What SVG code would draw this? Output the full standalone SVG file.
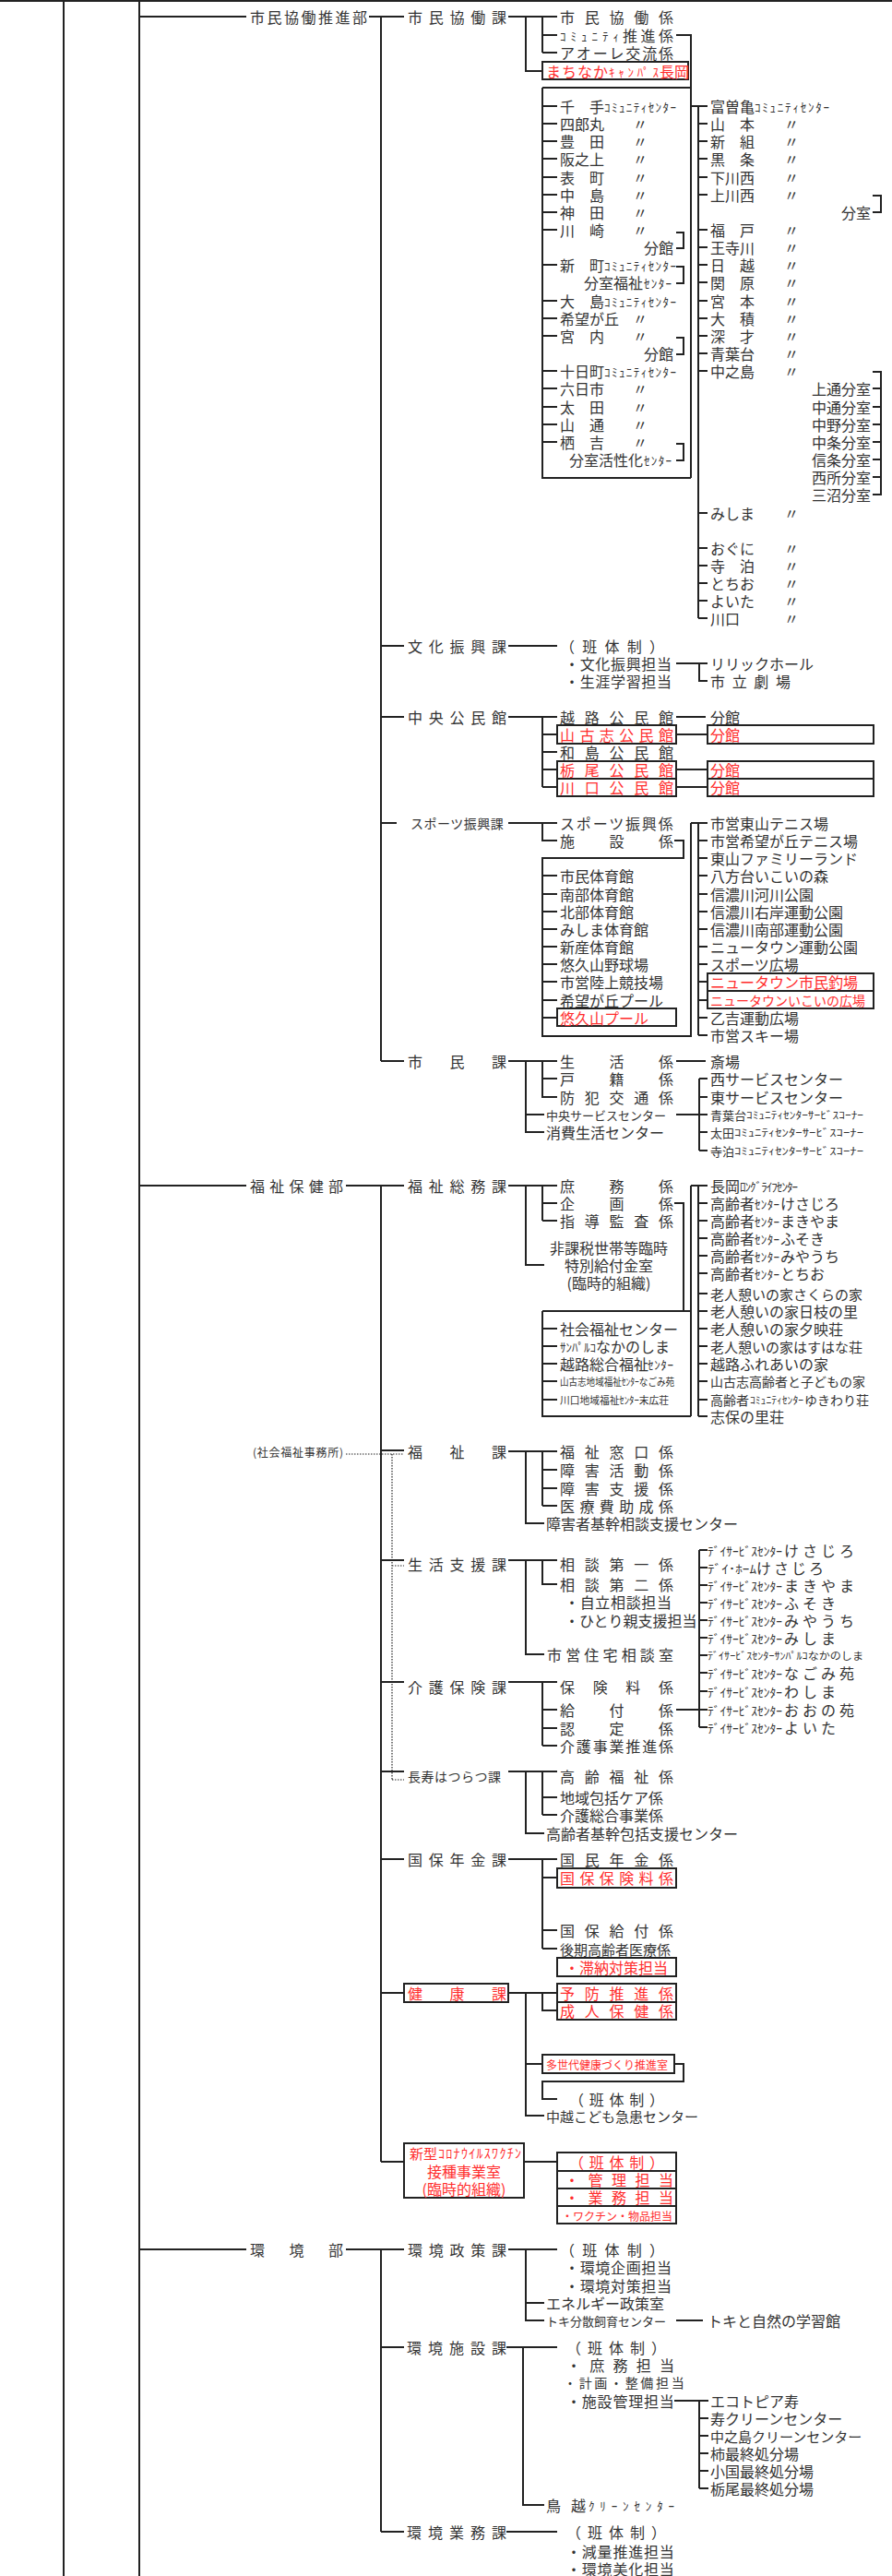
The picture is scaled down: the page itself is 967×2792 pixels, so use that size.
<svg xmlns="http://www.w3.org/2000/svg" width="967" height="2792" viewBox="0 0 967 2792">
<style>
text{font-family:"Noto Sans CJK JP","Noto Sans",sans-serif;font-size:16px;fill:#333;dominant-baseline:central}
.r{fill:#ff2d2d}
.m{font-size:15px}
.s{font-size:14px}
.h{font-size:13px}
.xs{font-size:11px}
.mid{text-anchor:middle}
.ln{stroke:#222;stroke-width:2;fill:none}
.dt{stroke:#222;stroke-width:1.2;fill:none;stroke-dasharray:1.5 1.5}
.bx{stroke:#222;stroke-width:2;fill:#fff}
</style>
<rect width="967" height="2792" fill="#fff"/>
<g id="connectors">
<path class="ln" d="M69 0V2792 M151 0V2792 M0 1H967
M151 18H267 M400 18H413 M413 18V1150 M413 18H438 M551 18H604 M570 18V77H588 M588 18V57 M588 38H604 M588 57H604
M733 38H749V518 M588 95H749 M588 95V518H749
M588 115H604 M588 134H604 M588 153H604 M588 172H604 M588 192H604 M588 211H604 M588 230H604 M588 249H604 M588 287H604 M588 326H604 M588 345H604 M588 364H604 M588 402H604 M588 421H604 M588 441H604 M588 460H604 M588 479H604
M733 252H741V269H733 M733 289H741V307H733 M733 366H741V384H733 M733 481H741V499H733
M749 115H767 M757 115V670 M757 134H767 M757 153H767 M757 172H767 M757 192H767 M757 211H767 M757 249H767 M757 268H767 M757 287H767 M757 306H767 M757 326H767 M757 345H767 M757 364H767 M757 383H767 M757 402H767 M757 556H767 M757 594H767 M757 613H767 M757 632H767 M757 651H767 M757 670H767
M946 212H955V230H946 M946 403H955V536H946 M946 421H955 M946 441H955 M946 460H955 M946 479H955 M946 498H955 M946 517H955
M413 700H438 M551 700H604 M733 719H767 M758 719V738H767
M413 777H438 M551 777H604 M588 777V853 M588 796H604 M588 815H604 M588 834H604 M588 853H604 M733 777H765 M733 796H767 M733 834H767 M733 853H767
M413 892H430 M551 892H604 M588 892V911H604 M731 911H741V930H588V1123H749V892 M749 892H767 M757 892V1122
M588 949H604 M588 969H604 M588 988H604 M588 1007H604 M588 1026H604 M588 1045H604 M588 1064H604 M588 1084H604 M588 1103H604
M757 911H767 M757 930H767 M757 949H767 M757 969H767 M757 988H767 M757 1007H767 M757 1026H767 M757 1045H767 M757 1064H767 M757 1084H767 M757 1103H767 M757 1122H767
M413 1150H438 M551 1150H604 M733 1150H765 M570 1150V1227H590 M570 1208H590 M588 1150V1189H604 M588 1169H604 M733 1208H767 M758 1169V1247 M758 1169H767 M758 1189H767 M758 1227H767 M758 1247H767
M151 1285H267 M375 1285H413 M413 1285V2343 M413 1285H438 M551 1285H604 M570 1285V1371H590 M588 1285V1323 M588 1304H604 M588 1323H604 M731 1304H741V1421 M588 1421H749 M588 1421V1535H749 M749 1285V1535 M749 1285H767 M757 1285V1535
M588 1440H604 M588 1459H604 M588 1478H604 M588 1497H604 M588 1517H604
M757 1304H767 M757 1323H767 M757 1342H767 M757 1361H767 M757 1380H767 M757 1402H767 M757 1421H767 M757 1440H767 M757 1459H767 M757 1478H767 M757 1497H767 M757 1517H767 M757 1535H767
M413 1572H438 M551 1573H604 M570 1573V1651H590 M588 1573V1632 M588 1593H604 M588 1613H604 M588 1632H604
M413 1691H438 M551 1691H604 M570 1691V1793H590 M588 1691V1717H604
M758 1680V1872 M758 1680H767 M758 1699H767 M758 1718H767 M758 1737H767 M758 1756H767 M758 1775H767 M758 1794H767 M758 1813H767 M758 1833H767 M758 1853H767 M758 1872H767 M733 1853H758
M413 1823H438 M551 1823H604 M588 1823V1892 M588 1853H604 M588 1873H604 M588 1892H604
M413 1920H438 M551 1920H604 M570 1920V1987H590 M588 1920V1967 M588 1948H604 M588 1967H604
M413 2015H438 M551 2015H604 M588 2015V2112 M588 2035H604 M588 2092H604 M588 2112H604
M413 2160H438 M551 2160H604 M588 2160V2179H604 M570 2160V2293H590 M570 2237H588 M731 2237H741V2256H588V2275H604
M413 2343H438 M568 2343H604
M151 2438H267 M375 2438H413 M413 2438V2744 M413 2438H438 M551 2438H604 M570 2438V2515H590 M570 2496H590 M733 2515H762
M413 2544H438 M549 2544H604 M567 2544V2715H590 M731 2602H768 M758 2602V2697 M758 2621H768 M758 2640H768 M758 2659H768 M758 2678H768 M758 2697H768
M413 2744H438 M549 2744H604"/>
<path class="dt" d="M375 1576H438 M425 1576V1929 M425 1697H438 M425 1929H438"/>
</g>

<g id="boxes">
<rect class="bx" x="588" y="67" width="158" height="19"/>
<rect class="bx" x="604" y="786" width="129" height="20"/><rect class="bx" x="767" y="786" width="180" height="20"/>
<rect class="bx" x="604" y="825" width="129" height="19"/><rect class="bx" x="767" y="825" width="180" height="19"/>
<rect class="bx" x="604" y="844" width="129" height="19"/><rect class="bx" x="767" y="844" width="180" height="19"/>
<rect class="bx" x="604" y="1093" width="129" height="19"/>
<rect class="bx" x="767" y="1055" width="180" height="19"/><rect class="bx" x="767" y="1074" width="180" height="19"/>
<rect class="bx" x="604" y="2025" width="129" height="21"/>
<rect class="bx" x="604" y="2122" width="129" height="20"/>
<rect class="bx" x="438" y="2150" width="113" height="20"/>
<rect class="bx" x="604" y="2150" width="129" height="20"/><rect class="bx" x="604" y="2170" width="129" height="19"/>
<rect class="bx" x="588" y="2227" width="143" height="20"/>
<rect class="bx" x="438" y="2323" width="130" height="59"/>
<rect class="bx" x="604" y="2333" width="129" height="20"/><rect class="bx" x="604" y="2353" width="129" height="19"/>
<rect class="bx" x="604" y="2372" width="129" height="19"/><rect class="bx" x="604" y="2391" width="129" height="19"/>
</g>

<g id="dept-shimin">
<text x="271" y="18" letter-spacing="2.5">市民協働推進部</text>
</g>
<g id="ka-shiminkyodo">
<text x="442" y="18" letter-spacing="6.75">市民協働課</text>
<text x="607" y="18" letter-spacing="10.75">市民協働係</text>
<text x="607" y="38" class="h" textLength="64">ｺﾐｭﾆﾃｨ</text><text x="675" y="38" letter-spacing="3.5">推進係</text>
<text x="607" y="57" letter-spacing="1.83">アオーレ交流係</text>
<text x="592" y="77" class="r" letter-spacing="1">まちなか</text><text x="660" y="77" class="r h" textLength="54">ｷｬﾝﾊﾟｽ</text><text x="715" y="77" class="r">長岡</text>
</g>
<g id="community-list-1">
<text x="607" y="115">千　手</text><text x="655" y="115" class="h" textLength="78">ｺﾐｭﾆﾃｨｾﾝﾀｰ</text>
<text x="607" y="134">四郎丸</text><text x="686" y="134">〃</text>
<text x="607" y="153">豊　田</text><text x="686" y="153">〃</text>
<text x="607" y="172">阪之上</text><text x="686" y="172">〃</text>
<text x="607" y="192">表　町</text><text x="686" y="192">〃</text>
<text x="607" y="211">中　島</text><text x="686" y="211">〃</text>
<text x="607" y="230">神　田</text><text x="686" y="230">〃</text>
<text x="607" y="249">川　崎</text><text x="686" y="249">〃</text>
<text x="698" y="268">分館</text>
<text x="607" y="287">新　町</text><text x="655" y="287" class="h" textLength="78">ｺﾐｭﾆﾃｨｾﾝﾀｰ</text>
<text x="633" y="306">分室福祉</text><text x="698" y="306" class="h" textLength="30">ｾﾝﾀｰ</text>
<text x="607" y="326">大　島</text><text x="655" y="326" class="h" textLength="78">ｺﾐｭﾆﾃｨｾﾝﾀｰ</text>
<text x="607" y="345">希望が丘</text><text x="686" y="345">〃</text>
<text x="607" y="364">宮　内</text><text x="686" y="364">〃</text>
<text x="698" y="383">分館</text>
<text x="607" y="402">十日町</text><text x="655" y="402" class="h" textLength="78">ｺﾐｭﾆﾃｨｾﾝﾀｰ</text>
<text x="607" y="421">六日市</text><text x="686" y="421">〃</text>
<text x="607" y="441">太　田</text><text x="686" y="441">〃</text>
<text x="607" y="460">山　通</text><text x="686" y="460">〃</text>
<text x="607" y="479">栖　吉</text><text x="686" y="479">〃</text>
<text x="617" y="498">分室活性化</text><text x="698" y="498" class="h" textLength="30">ｾﾝﾀｰ</text>
</g>
<g id="community-list-2">
<text x="770" y="115">富曽亀</text><text x="818" y="115" class="h" textLength="81">ｺﾐｭﾆﾃｨｾﾝﾀｰ</text>
<text x="770" y="134">山　本</text><text x="850" y="134">〃</text>
<text x="770" y="153">新　組</text><text x="850" y="153">〃</text>
<text x="770" y="172">黒　条</text><text x="850" y="172">〃</text>
<text x="770" y="192">下川西</text><text x="850" y="192">〃</text>
<text x="770" y="211">上川西</text><text x="850" y="211">〃</text>
<text x="912" y="230">分室</text>
<text x="770" y="249">福　戸</text><text x="850" y="249">〃</text>
<text x="770" y="268">王寺川</text><text x="850" y="268">〃</text>
<text x="770" y="287">日　越</text><text x="850" y="287">〃</text>
<text x="770" y="306">関　原</text><text x="850" y="306">〃</text>
<text x="770" y="326">宮　本</text><text x="850" y="326">〃</text>
<text x="770" y="345">大　積</text><text x="850" y="345">〃</text>
<text x="770" y="364">深　才</text><text x="850" y="364">〃</text>
<text x="770" y="383">青葉台</text><text x="850" y="383">〃</text>
<text x="770" y="402">中之島</text><text x="850" y="402">〃</text>
<text x="880" y="421">上通分室</text>
<text x="880" y="441">中通分室</text>
<text x="880" y="460">中野分室</text>
<text x="880" y="479">中条分室</text>
<text x="880" y="498">信条分室</text>
<text x="880" y="517">西所分室</text>
<text x="880" y="536">三沼分室</text>
<text x="770" y="556">みしま</text><text x="850" y="556">〃</text>
<text x="770" y="594">おぐに</text><text x="850" y="594">〃</text>
<text x="770" y="613">寺　泊</text><text x="850" y="613">〃</text>
<text x="770" y="632">とちお</text><text x="850" y="632">〃</text>
<text x="770" y="651">よいた</text><text x="850" y="651">〃</text>
<text x="770" y="670">川口</text><text x="850" y="670">〃</text>
</g>
<g id="ka-bunka">
<text x="442" y="700" letter-spacing="6.75">文化振興課</text>
<text x="607" y="700" letter-spacing="8.25">（班体制）</text>
<text x="612" y="719" letter-spacing="0.67">・文化振興担当</text>
<text x="612" y="738" letter-spacing="0.67">・生涯学習担当</text>
<text x="770" y="719">リリックホール</text>
<text x="770" y="738" letter-spacing="7.67">市立劇場</text>
</g>
<g id="ka-kominkan">
<text x="442" y="777" letter-spacing="6.75">中央公民館</text>
<text x="607" y="777" letter-spacing="10.75">越路公民館</text><text x="770" y="777">分館</text>
<text x="607" y="796" class="r" letter-spacing="5.4">山古志公民館</text><text x="770" y="796" class="r">分館</text>
<text x="607" y="815" letter-spacing="10.75">和島公民館</text>
<text x="607" y="834" class="r" letter-spacing="10.75">栃尾公民館</text><text x="770" y="834" class="r">分館</text>
<text x="607" y="853" class="r" letter-spacing="10.75">川口公民館</text><text x="770" y="853" class="r">分館</text>
</g>
<g id="ka-sports">
<text x="445" y="892" class="s" letter-spacing="0.5">スポーツ振興課</text>
<text x="607" y="892" letter-spacing="1.83">スポーツ振興係</text>
<text x="607" y="911" letter-spacing="37.5">施設係</text>
<text x="607" y="949">市民体育館</text>
<text x="607" y="969">南部体育館</text>
<text x="607" y="988">北部体育館</text>
<text x="607" y="1007">みしま体育館</text>
<text x="607" y="1026">新産体育館</text>
<text x="607" y="1045">悠久山野球場</text>
<text x="607" y="1064">市営陸上競技場</text>
<text x="607" y="1084">希望が丘プール</text>
<text x="607" y="1103" class="r">悠久山プール</text>
<text x="770" y="892">市営東山テニス場</text>
<text x="770" y="911">市営希望が丘テニス場</text>
<text x="770" y="930">東山ファミリーランド</text>
<text x="770" y="949">八方台いこいの森</text>
<text x="770" y="969">信濃川河川公園</text>
<text x="770" y="988">信濃川右岸運動公園</text>
<text x="770" y="1007">信濃川南部運動公園</text>
<text x="770" y="1026">ニュータウン運動公園</text>
<text x="770" y="1045">スポーツ広場</text>
<text x="770" y="1064" class="r">ニュータウン市民釣場</text>
<text x="770" y="1084" class="r s">ニュータウンいこいの広場</text>
<text x="770" y="1103">乙吉運動広場</text>
<text x="770" y="1122">市営スキー場</text>
</g>
<g id="ka-shimin">
<text x="442" y="1150" letter-spacing="29.5">市民課</text>
<text x="607" y="1150" letter-spacing="37.5">生活係</text><text x="770" y="1150">斎場</text>
<text x="607" y="1169" letter-spacing="37.5">戸籍係</text>
<text x="607" y="1189" letter-spacing="10.75">防犯交通係</text>
<text x="592" y="1208" class="h">中央サービスセンター</text>
<text x="592" y="1227">消費生活センター</text>
<text x="770" y="1169">西サービスセンター</text>
<text x="770" y="1189">東サービスセンター</text>
<text x="770" y="1208" class="h">青葉台</text><text x="809" y="1208" class="xs" textLength="127" lengthAdjust="spacingAndGlyphs">ｺﾐｭﾆﾃｨｾﾝﾀｰｻｰﾋﾞｽｺｰﾅｰ</text>
<text x="770" y="1227" class="h">太田</text><text x="796" y="1227" class="xs" textLength="140" lengthAdjust="spacingAndGlyphs">ｺﾐｭﾆﾃｨｾﾝﾀｰｻｰﾋﾞｽｺｰﾅｰ</text>
<text x="770" y="1247" class="h">寺泊</text><text x="796" y="1247" class="xs" textLength="140" lengthAdjust="spacingAndGlyphs">ｺﾐｭﾆﾃｨｾﾝﾀｰｻｰﾋﾞｽｺｰﾅｰ</text>
</g>
<g id="dept-fukushi">
<text x="271" y="1285" letter-spacing="5.25">福祉保健部</text>
<text x="274" y="1573" style="font-size:12px" textLength="98">(社会福祉事務所)</text>
</g>
<g id="ka-fukushisomu">
<text x="442" y="1285" letter-spacing="6.75">福祉総務課</text>
<text x="607" y="1285" letter-spacing="37.5">庶務係</text>
<text x="607" y="1304" letter-spacing="37.5">企画係</text>
<text x="607" y="1323" letter-spacing="10.75">指導監査係</text>
<text x="660" y="1352" class="mid">非課税世帯等臨時</text>
<text x="660" y="1371" class="mid">特別給付金室</text>
<text x="660" y="1390" class="mid">(臨時的組織)</text>
<text x="607" y="1440">社会福祉センター</text>
<text x="607" y="1459" class="h" textLength="39">ｻﾝﾊﾟﾙｺ</text><text x="646" y="1459">なかのしま</text>
<text x="607" y="1478">越路総合福祉</text><text x="702" y="1478" class="h" textLength="28">ｾﾝﾀｰ</text>
<text x="607" y="1497" class="xs" textLength="124" lengthAdjust="spacingAndGlyphs">山古志地域福祉ｾﾝﾀｰなごみ苑</text>
<text x="607" y="1517" class="xs" textLength="118" lengthAdjust="spacingAndGlyphs">川口地域福祉ｾﾝﾀｰ末広荘</text>
<text x="770" y="1285">長岡</text><text x="802" y="1285" class="h" textLength="63">ﾛﾝｸﾞﾗｲﾌｾﾝﾀｰ</text>
<text x="770" y="1304">高齢者</text><text x="818" y="1304" class="h" textLength="27">ｾﾝﾀｰ</text><text x="846" y="1304">けさじろ</text>
<text x="770" y="1323">高齢者</text><text x="818" y="1323" class="h" textLength="27">ｾﾝﾀｰ</text><text x="846" y="1323">まきやま</text>
<text x="770" y="1342">高齢者</text><text x="818" y="1342" class="h" textLength="27">ｾﾝﾀｰ</text><text x="846" y="1342">ふそき</text>
<text x="770" y="1361">高齢者</text><text x="818" y="1361" class="h" textLength="27">ｾﾝﾀｰ</text><text x="846" y="1361">みやうち</text>
<text x="770" y="1380">高齢者</text><text x="818" y="1380" class="h" textLength="27">ｾﾝﾀｰ</text><text x="846" y="1380">とちお</text>
<text x="770" y="1402" class="m">老人憩いの家さくらの家</text>
<text x="770" y="1421">老人憩いの家日枝の里</text>
<text x="770" y="1440">老人憩いの家夕映荘</text>
<text x="770" y="1459" class="m">老人憩いの家はすはな荘</text>
<text x="770" y="1478">越路ふれあいの家</text>
<text x="770" y="1497" class="s">山古志高齢者と子どもの家</text>
<text x="770" y="1517" class="s">高齢者</text><text x="813" y="1517" class="xs" textLength="58" lengthAdjust="spacingAndGlyphs">ｺﾐｭﾆﾃｨｾﾝﾀｰ</text><text x="872" y="1517" class="s">ゆきわり荘</text>
<text x="770" y="1535">志保の里荘</text>
</g>
<g id="ka-fukushi">
<text x="442" y="1573" letter-spacing="29.5">福祉課</text>
<text x="607" y="1573" letter-spacing="10.75">福祉窓口係</text>
<text x="607" y="1593" letter-spacing="10.75">障害活動係</text>
<text x="607" y="1613" letter-spacing="10.75">障害支援係</text>
<text x="607" y="1632" letter-spacing="5.4">医療費助成係</text>
<text x="592" y="1651">障害者基幹相談支援センター</text>
</g>
<g id="ka-seikatsushien">
<text x="442" y="1695" letter-spacing="6.75">生活支援課</text>
<text x="607" y="1695" letter-spacing="10.75">相談第一係</text>
<text x="607" y="1717" letter-spacing="10.75">相談第二係</text>
<text x="612" y="1736" letter-spacing="0.67">・自立相談担当</text>
<text x="612" y="1756">・ひとり親支援担当</text>
<text x="593" y="1793" letter-spacing="4.17">市営住宅相談室</text>
</g>
<g id="dayservice-list">
<text x="767" y="1680" class="h" textLength="81" lengthAdjust="spacingAndGlyphs">ﾃﾞｲｻｰﾋﾞｽｾﾝﾀｰ</text><text x="850" y="1680" letter-spacing="4">けさじろ</text>
<text x="767" y="1699" class="h" textLength="53" lengthAdjust="spacingAndGlyphs">ﾃﾞｲ･ﾎｰﾑ</text><text x="820" y="1699" letter-spacing="3">けさじろ</text>
<text x="767" y="1718" class="h" textLength="81" lengthAdjust="spacingAndGlyphs">ﾃﾞｲｻｰﾋﾞｽｾﾝﾀｰ</text><text x="850" y="1718" letter-spacing="4">まきやま</text>
<text x="767" y="1737" class="h" textLength="81" lengthAdjust="spacingAndGlyphs">ﾃﾞｲｻｰﾋﾞｽｾﾝﾀｰ</text><text x="850" y="1737" letter-spacing="4">ふそき</text>
<text x="767" y="1756" class="h" textLength="81" lengthAdjust="spacingAndGlyphs">ﾃﾞｲｻｰﾋﾞｽｾﾝﾀｰ</text><text x="850" y="1756" letter-spacing="4">みやうち</text>
<text x="767" y="1775" class="h" textLength="81" lengthAdjust="spacingAndGlyphs">ﾃﾞｲｻｰﾋﾞｽｾﾝﾀｰ</text><text x="850" y="1775" letter-spacing="4">みしま</text>
<text x="767" y="1794" class="xs" textLength="169" lengthAdjust="spacingAndGlyphs">ﾃﾞｲｻｰﾋﾞｽｾﾝﾀｰｻﾝﾊﾟﾙｺなかのしま</text>
<text x="767" y="1813" class="h" textLength="81" lengthAdjust="spacingAndGlyphs">ﾃﾞｲｻｰﾋﾞｽｾﾝﾀｰ</text><text x="850" y="1813" letter-spacing="4">なごみ苑</text>
<text x="767" y="1833" class="h" textLength="81" lengthAdjust="spacingAndGlyphs">ﾃﾞｲｻｰﾋﾞｽｾﾝﾀｰ</text><text x="850" y="1833" letter-spacing="4">わしま</text>
<text x="767" y="1853" class="h" textLength="81" lengthAdjust="spacingAndGlyphs">ﾃﾞｲｻｰﾋﾞｽｾﾝﾀｰ</text><text x="850" y="1853" letter-spacing="4">おおの苑</text>
<text x="767" y="1872" class="h" textLength="81" lengthAdjust="spacingAndGlyphs">ﾃﾞｲｻｰﾋﾞｽｾﾝﾀｰ</text><text x="850" y="1872" letter-spacing="4">よいた</text>
</g>
<g id="ka-kaigo">
<text x="442" y="1828" letter-spacing="6.75">介護保険課</text>
<text x="607" y="1828" letter-spacing="19.67">保険料係</text>
<text x="607" y="1853" letter-spacing="37.5">給付係</text>
<text x="607" y="1873" letter-spacing="37.5">認定係</text>
<text x="607" y="1892" letter-spacing="1.83">介護事業推進係</text>
</g>
<g id="ka-chouju">
<text x="442" y="1925" class="s" letter-spacing="0.5">長寿はつらつ課</text>
<text x="607" y="1925" letter-spacing="10.75">高齢福祉係</text>
<text x="607" y="1948">地域包括ケア係</text>
<text x="607" y="1967">介護総合事業係</text>
<text x="592" y="1987">高齢者基幹包括支援センター</text>
</g>
<g id="ka-kokuho">
<text x="442" y="2015" letter-spacing="6.75">国保年金課</text>
<text x="607" y="2015" letter-spacing="10.75">国民年金係</text>
<text x="607" y="2035" class="r" letter-spacing="5.4">国保保険料係</text>
<text x="607" y="2092" letter-spacing="10.75">国保給付係</text>
<text x="607" y="2112" class="m">後期高齢者医療係</text>
<text x="612" y="2132" class="r">・滞納対策担当</text>
</g>
<g id="ka-kenko">
<text x="442" y="2160" class="r" letter-spacing="29.5">健康課</text>
<text x="607" y="2160" class="r" letter-spacing="10.75">予防推進係</text>
<text x="607" y="2179" class="r" letter-spacing="10.75">成人保健係</text>
<text x="592" y="2237" class="r" style="font-size:12px">多世代健康づくり推進室</text>
<text x="617" y="2275" letter-spacing="5.75">（班体制）</text>
<text x="592" y="2293" class="m">中越こども急患センター</text>
</g>
<g id="shitsu-corona">
<text x="444" y="2333" class="r m">新型</text><text x="475" y="2333" class="r s" textLength="90">ｺﾛﾅｳｲﾙｽﾜｸﾁﾝ</text>
<text x="503" y="2353" class="r mid">接種事業室</text>
<text x="503" y="2372" class="r mid">(臨時的組織)</text>
<text x="617" y="2343" class="r" letter-spacing="5.75">（班体制）</text>
<text x="612" y="2362" class="r" letter-spacing="9.5">・管理担当</text>
<text x="612" y="2381" class="r" letter-spacing="9.5">・業務担当</text>
<text x="609" y="2401" class="r" style="font-size:12px">・ワクチン・物品担当</text>
</g>
<g id="dept-kankyo">
<text x="271" y="2438" letter-spacing="26.5">環境部</text>
</g>
<g id="ka-kankyoseisaku">
<text x="442" y="2438" letter-spacing="6.75">環境政策課</text>
<text x="607" y="2438" letter-spacing="8.25">（班体制）</text>
<text x="612" y="2457" letter-spacing="0.67">・環境企画担当</text>
<text x="612" y="2477" letter-spacing="0.67">・環境対策担当</text>
<text x="592" y="2496">エネルギー政策室</text>
<text x="592" y="2515" class="h">トキ分散飼育センター</text>
<text x="767" y="2515">トキと自然の学習館</text>
</g>
<g id="ka-kankyoshisetsu">
<text x="441" y="2544" letter-spacing="7">環境施設課</text>
<text x="614" y="2544" letter-spacing="7">（班体制）</text>
<text x="614" y="2563" letter-spacing="9.25">・庶務担当</text>
<text x="611" y="2582" class="s" letter-spacing="2.67">・計画・整備担当</text>
<text x="614" y="2602" letter-spacing="0.8">・施設管理担当</text>
<text x="770" y="2602">エコトピア寿</text>
<text x="770" y="2621">寿クリーンセンター</text>
<text x="770" y="2640" class="m">中之島クリーンセンター</text>
<text x="770" y="2659">柿最終処分場</text>
<text x="770" y="2678">小国最終処分場</text>
<text x="770" y="2697">栃尾最終処分場</text>
<text x="592" y="2715" letter-spacing="11">鳥越</text><text x="638" y="2715" class="h" textLength="93">ｸﾘｰﾝｾﾝﾀｰ</text>
</g>
<g id="ka-kankyogyomu">
<text x="441" y="2744" letter-spacing="7">環境業務課</text>
<text x="614" y="2744" letter-spacing="7">（班体制）</text>
<text x="614" y="2765" letter-spacing="0.8">・減量推進担当</text>
<text x="614" y="2784" letter-spacing="0.8">・環境美化担当</text>
</g>
</svg>
